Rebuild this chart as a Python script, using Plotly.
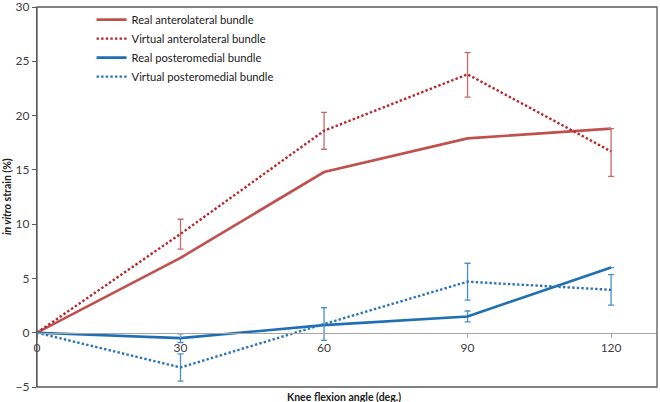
import plotly.graph_objects as go

# ---- data ----
angles = [0, 30, 60, 90, 120]
real_al = [0, 6.9, 14.8, 17.9, 18.8]
virtual_al = [0, 9.1, 18.6, 23.8, 16.7]
virtual_al_err_plus = [None, 1.35, 1.7, 2.0, 2.1]
virtual_al_err_minus = [None, 1.4, 1.7, 2.1, 2.3]
real_pm = [0, -0.5, 0.7, 1.5, 6.0]
real_pm_err = [None, 0.4, None, 0.5, None]
virtual_pm = [0, -3.2, 0.8, 4.7, 3.95]
virtual_pm_err = [None, 1.25, 1.5, 1.7, 1.4]
x_ticks = [0, 30, 60, 90, 120]
y_ticks = [-5, 0, 5, 10, 15, 20, 25, 30]
names = ["Real anterolateral bundle", "Virtual anterolateral bundle",
         "Real posteromedial bundle", "Virtual posteromedial bundle"]

FONT = "Lato, 'Open Sans', sans-serif"
red = "#C0504D"
red_dot = "#B8252B"
red_err = "#C96A68"
blue = "#1F6FB5"
blue_dot = "#2A74B8"
blue_err = "#4A8FC9"

fig = go.Figure()
fig.add_trace(go.Scatter(x=angles, y=real_al, name=names[0], mode="lines",
                         line=dict(color=red, width=2.6)))
fig.add_trace(go.Scatter(x=angles, y=virtual_al, name=names[1], mode="lines",
                         line=dict(color=red_dot, width=2.4, dash="2.4px,2.2px"),
                         error_y=dict(type="data", symmetric=False,
                                      array=virtual_al_err_plus,
                                      arrayminus=virtual_al_err_minus,
                                      color=red_err, thickness=1.3, width=3)))
fig.add_trace(go.Scatter(x=angles, y=real_pm, name=names[2], mode="lines",
                         line=dict(color=blue, width=2.6),
                         error_y=dict(type="data", array=real_pm_err,
                                      color=blue_err, thickness=1.3, width=3)))
fig.add_trace(go.Scatter(x=angles, y=virtual_pm, name=names[3], mode="lines",
                         line=dict(color=blue_dot, width=2.4, dash="2.4px,2.2px"),
                         error_y=dict(type="data", array=virtual_pm_err,
                                      color=blue_err, thickness=1.3, width=3)))

y_min, y_max = -5, 30
zero_pos = (0 - y_min) / (y_max - y_min)

fig.update_layout(
    width=660, height=402,
    margin=dict(l=37, r=3, t=7, b=15, autoexpand=False),
    paper_bgcolor="white", plot_bgcolor="white",
    font=dict(family=FONT, size=11, color="#404040"),
    showlegend=True,
    legend=dict(x=0.088, y=1.005, xanchor="left", yanchor="top",
                bgcolor="rgba(0,0,0,0)", font=dict(size=11.2, color="#202020"),
                itemwidth=30),
    xaxis=dict(range=[0, 129.6], tickvals=x_ticks, anchor="free", position=zero_pos,
               automargin=False, ticklabeloverflow="allow",
               showgrid=False, zeroline=False, showline=True, linecolor="#A6A6A6",
               linewidth=1, ticks="outside", ticklen=4, tickcolor="#A6A6A6",
               tickfont=dict(size=12, color="#404040")),
    yaxis=dict(range=[y_min, y_max], tickvals=y_ticks, showgrid=False, zeroline=False,
               automargin=False, ticklabeloverflow="allow",
               showline=True, linecolor="#595959", linewidth=1.3, ticks="outside",
               ticklen=4, tickcolor="#595959", tickfont=dict(size=12, color="#404040")),
    shapes=[dict(type="rect", xref="paper", yref="paper", x0=0, y0=0, x1=1, y1=1,
                 line=dict(color="#595959", width=1.3), layer="above")],
    annotations=[
        dict(text="<b>Knee flexion angle (deg.)</b>", xref="paper", yref="paper",
             x=0.495, y=0, yshift=-10, showarrow=False, xanchor="center", yanchor="middle",
             font=dict(size=10.5, color="#202020")),
        dict(text="<b><i>in vitro</i> strain (%)</b>", xref="paper", yref="paper",
             x=0, xshift=-30, y=0.5, showarrow=False, textangle=-90,
             xanchor="center", yanchor="middle", font=dict(size=10.5, color="#202020")),
    ],
)

fig.write_html("out.html", config={"displayModeBar": False},
               post_script="document.body.style.margin='0';")
